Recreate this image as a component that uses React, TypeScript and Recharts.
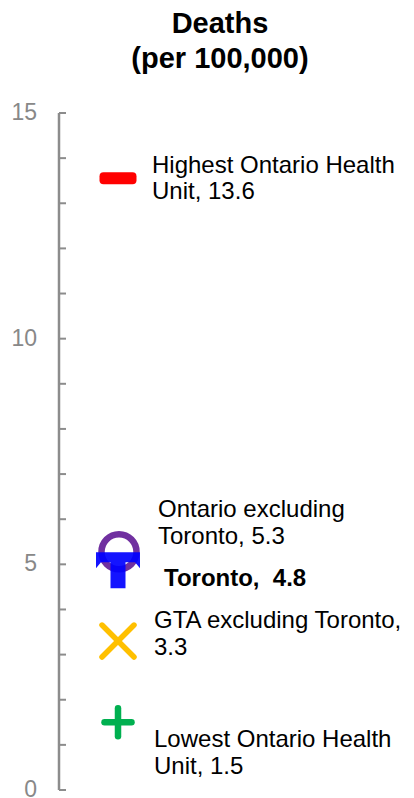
import React from "react";
import { ScatterChart, Scatter, XAxis, YAxis } from "recharts";

// Death rates per 100,000 by area
const categories = [
  "Highest Ontario Health Unit",
  "Ontario excluding Toronto",
  "Toronto",
  "GTA excluding Toronto",
  "Lowest Ontario Health Unit",
];
const deathRates = [13.6, 5.3, 4.8, 3.3, 1.5];
const markerColors = ["#ff0000", "#7030a0", "#0000ff", "#ffc000", "#00b050"];
const markerKinds = ["dash", "ring", "tee", "cross", "plus"];
const yTicks = [0, 1, 2, 3, 4, 5, 6, 7, 8, 9, 10, 11, 12, 13, 14, 15];
const titleLines = ["Deaths", "(per 100,000)"];

// Label placement relative to each marker centre
const labelLayout = [
  { dx: 34, baselines: [-3, 23], wrapAfter: 3, bold: false },
  { dx: 40, baselines: [-34, -7], wrapAfter: 2, bold: false },
  { dx: 46, baselines: [13], wrapAfter: 0, bold: true },
  { dx: 36, baselines: [-13, 14], wrapAfter: 3, bold: false },
  { dx: 36, baselines: [25, 52], wrapAfter: 3, bold: false },
];

const FONT = "'Liberation Sans', Arial, sans-serif";
const AXIS_GREY = "#8c8c8c";

const wrapLabel = (text: string, wrapAfter: number): string[] => {
  if (!wrapAfter) return [text];
  const words = text.split(" ");
  return [words.slice(0, wrapAfter).join(" "), words.slice(wrapAfter).join(" ")];
};

const Marker = ({ kind, color, cx, cy }: { kind: string; color: string; cx: number; cy: number }) => {
  switch (kind) {
    case "dash":
      return <rect x={cx - 18.5} y={cy - 4} width={37} height={12} rx={4} fill={color} />;
    case "ring":
      return <circle cx={cx + 1} cy={cy + 1} r={17.5} fill="none" stroke={color} strokeWidth={6.5} />;
    case "tee":
      return (
        <path
          d={`M${cx - 22},${cy - 21} L${cx + 22},${cy - 21} L${cx + 22},${cy - 5} L${cx + 17},${cy - 11} L${cx + 7.5},${cy - 11} L${cx + 7.5},${cy + 15} L${cx - 7.5},${cy + 15} L${cx - 7.5},${cy - 11} L${cx - 17},${cy - 11} L${cx - 22},${cy - 5} Z`}
          fill={color}
          fillOpacity={0.92}
        />
      );
    case "cross":
      return (
        <g stroke={color} strokeWidth={5.5} strokeLinecap="round">
          <line x1={cx - 16} y1={cy - 16} x2={cx + 16} y2={cy + 16} />
          <line x1={cx - 16} y1={cy + 16} x2={cx + 16} y2={cy - 16} />
        </g>
      );
    case "plus":
      return (
        <g stroke={color} strokeWidth={6.5} strokeLinecap="round">
          <line x1={cx - 13.5} y1={cy} x2={cx + 13.5} y2={cy} />
          <line x1={cx} y1={cy - 14} x2={cx} y2={cy + 14} />
        </g>
      );
    default:
      return null;
  }
};

const makeShape = (i: number) => (props: any) => {
  const { cx, cy, payload } = props;
  const layout = labelLayout[i];
  const label = `${payload.name},${layout.bold ? "  " : " "}${payload.value}`;
  const lines = wrapLabel(label, layout.wrapAfter);
  return (
    <g>
      <Marker kind={markerKinds[i]} color={markerColors[i]} cx={cx} cy={cy} />
      {lines.map((line, k) => (
        <text
          key={k}
          x={cx + layout.dx}
          y={cy + layout.baselines[k]}
          fontFamily={FONT}
          fontSize={24}
          fontWeight={layout.bold ? "bold" : "normal"}
          fill="#000"
          style={{ whiteSpace: "pre" }}
        >
          {line}
        </text>
      ))}
    </g>
  );
};

const AxisTick = (props: any) => {
  const { x, y, payload } = props;
  return (
    <g>
      <line x1={x} x2={x + 7} y1={y} y2={y} stroke={AXIS_GREY} strokeWidth={2} />
      {payload.value % 5 === 0 && (
        <text
          x={x - 22}
          y={y}
          dy="0.3em"
          textAnchor="end"
          fontFamily={FONT}
          fontSize={23}
          fill="#888888"
        >
          {payload.value}
        </text>
      )}
    </g>
  );
};

const seriesData = categories.map((name, i) => [
  { group: "Deaths", name, value: deathRates[i] },
]);

export default function App() {
  return (
    <div style={{ position: "absolute", left: 0, top: 0, width: 414, height: 798, background: "#fff" }}>
      <div
        style={{
          position: "absolute",
          left: 100,
          top: 6,
          width: 240,
          textAlign: "center",
          fontFamily: FONT,
          fontWeight: "bold",
          fontSize: 29,
          lineHeight: "35px",
          color: "#000",
        }}
      >
        {titleLines.map((t) => (
          <div key={t}>{t}</div>
        ))}
      </div>
      <ScatterChart
        width={414}
        height={798}
        margin={{ top: 113, right: 237, bottom: 8, left: 0 }}
      >
        <XAxis dataKey="group" type="category" allowDuplicatedCategory={false} hide />
        <YAxis
          dataKey="value"
          type="number"
          domain={[0, 15]}
          ticks={yTicks}
          interval={0}
          width={59}
          tickSize={0}
          tickMargin={0}
          tickLine={false}
          axisLine={{ stroke: AXIS_GREY, strokeWidth: 2.5 }}
          tick={<AxisTick />}
        />
        {seriesData.map((d, i) => (
          <Scatter
            key={categories[i]}
            data={d}
            dataKey="value"
            isAnimationActive={false}
            shape={makeShape(i)}
          />
        ))}
      </ScatterChart>
    </div>
  );
}
